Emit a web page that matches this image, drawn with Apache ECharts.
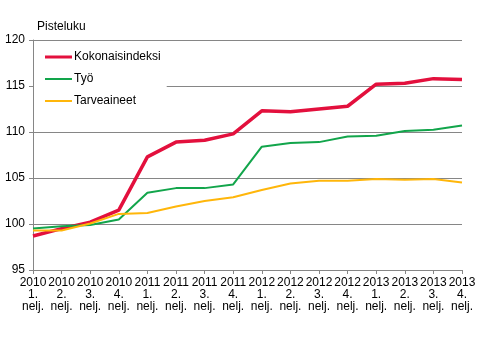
<!DOCTYPE html>
<html>
<head>
<meta charset="utf-8">
<script src="https://cdn.jsdelivr.net/npm/echarts@6/dist/echarts.min.js"></script>
<style>
html,body{margin:0;padding:0;background:#fff;}
#chart{width:483px;height:347px;}
</style>
</head>
<body>
<div id="chart"></div>
<script>
var years = ['2010','2010','2010','2010','2011','2011','2011','2011','2012','2012','2012','2012','2013','2013','2013','2013'];
var quarters = ['1.','2.','3.','4.','1.','2.','3.','4.','1.','2.','3.','4.','1.','2.','3.','4.'];
var kokonaisindeksi = [98.7, 99.5, 100.2, 101.5, 107.3, 108.9, 109.1, 109.8, 112.3, 112.2, 112.5, 112.8, 115.2, 115.3, 115.8, 115.7];
var tyo = [99.5, 99.75, 99.9, 100.5, 103.4, 103.9, 103.9, 104.3, 108.4, 108.8, 108.9, 109.5, 109.6, 110.1, 110.25, 110.7];
var tarveaineet = [99.3, 99.3, 100.05, 101.1, 101.2, 101.9, 102.5, 102.9, 103.7, 104.4, 104.7, 104.7, 104.9, 104.8, 104.9, 104.5];
var yTicks = [95, 100, 105, 110, 115, 120];

var categories = years.map(function(y, i){ return y + '\n' + quarters[i] + '\nnelj.'; });
var font = 'Liberation Sans, Arial, sans-serif';
var thickIcon = 'path://M0,0h0.01v0.01h-0.01Z M0,5.5H27V8.5H0Z M0,14h0.01v0.01h-0.01Z';
var thinIcon = 'path://M0,0h0.01v0.01h-0.01Z M0,6H27V8H0Z M0,14h0.01v0.01h-0.01Z';
var RED = '#e3103d', GREEN = '#12a54b', ORANGE = '#ffb60a';
var chart = echarts.init(document.getElementById('chart'), null, {renderer:'canvas'});
chart.setOption({
  animation: false,
  backgroundColor: '#fff',
  title: {
    text: 'Pisteluku', left: 32, top: 16,
    textStyle: {fontFamily: font, fontSize: 12, fontWeight: 'normal', color: '#000'}
  },
  legend: {
    orient: 'vertical', left: 34, top: 43,
    padding: [7, 6, 7, 11],
    itemGap: 8, itemWidth: 27, itemHeight: 14,
    backgroundColor: '#fff',
    textStyle: {fontFamily: font, fontSize: 12, color: '#000', padding: [0,0,0,-3]},
    data: [
      {name: 'Kokonaisindeksi', icon: thickIcon, itemStyle: {color: RED}},
      {name: 'Työ', icon: thinIcon, itemStyle: {color: GREEN}},
      {name: 'Tarveaineet', icon: thinIcon, itemStyle: {color: ORANGE}}
    ]
  },
  grid: {left: 33, right: 21, top: 40, bottom: 77, containLabel: false},
  xAxis: {
    type: 'category', data: categories, boundaryGap: false,
    axisLine: {lineStyle: {color: '#868686', width: 1}},
    axisTick: {show: true, length: 4, inside: false, lineStyle: {color: '#868686'}, alignWithLabel: true, interval: 0},
    axisLabel: {interval: 0, fontFamily: font, fontSize: 12, color: '#000', lineHeight: 12, margin: 7},
    splitLine: {show: false}
  },
  yAxis: {
    type: 'value', min: yTicks[0], max: yTicks[yTicks.length-1], interval: 5,
    axisLine: {show: true, lineStyle: {color: '#868686', width: 1}},
    axisTick: {show: true, length: 4, lineStyle: {color: '#868686'}},
    axisLabel: {fontFamily: font, fontSize: 12, color: '#000', margin: 8},
    splitLine: {show: true, lineStyle: {color: '#868686', width: 1}}
  },
  series: [
    {name: 'Työ', type: 'line', data: tyo, symbol: 'none', z: 3,
     lineStyle: {color: GREEN, width: 2}, itemStyle: {color: GREEN}},
    {name: 'Tarveaineet', type: 'line', data: tarveaineet, symbol: 'none', z: 4,
     lineStyle: {color: ORANGE, width: 2}, itemStyle: {color: ORANGE}},
    {name: 'Kokonaisindeksi', type: 'line', data: kokonaisindeksi, symbol: 'none', z: 2,
     lineStyle: {color: RED, width: 3.5}, itemStyle: {color: RED}}
  ]
});
</script>
</body>
</html>
